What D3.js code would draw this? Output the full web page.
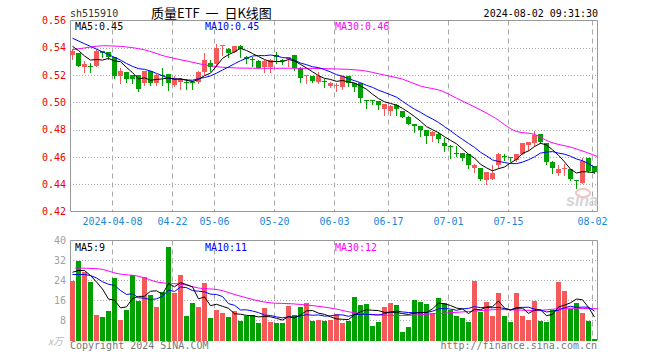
<!DOCTYPE html>
<html><head><meta charset="utf-8">
<script src="https://cdn.jsdelivr.net/npm/d3@7"></script>
<style>body{margin:0;background:#fff}svg{display:block}</style>
</head><body>
<svg id="c" width="660" height="360"></svg>
<script>
const dates = [
"2024-03-26","2024-03-27","2024-03-28","2024-03-29","2024-04-01","2024-04-02","2024-04-03",
"2024-04-08","2024-04-09","2024-04-10","2024-04-11","2024-04-12",
"2024-04-15","2024-04-16","2024-04-17","2024-04-18","2024-04-19",
"2024-04-22","2024-04-23","2024-04-24","2024-04-25","2024-04-26","2024-04-29","2024-04-30",
"2024-05-06","2024-05-07","2024-05-08","2024-05-09","2024-05-10",
"2024-05-13","2024-05-14","2024-05-15","2024-05-16","2024-05-17",
"2024-05-20","2024-05-21","2024-05-22","2024-05-23","2024-05-24",
"2024-05-27","2024-05-28","2024-05-29","2024-05-30","2024-05-31",
"2024-06-03","2024-06-04","2024-06-05","2024-06-06","2024-06-07",
"2024-06-11","2024-06-12","2024-06-13","2024-06-14",
"2024-06-17","2024-06-18","2024-06-19","2024-06-20","2024-06-21",
"2024-06-24","2024-06-25","2024-06-26","2024-06-27","2024-06-28",
"2024-07-01","2024-07-02","2024-07-03","2024-07-04","2024-07-05",
"2024-07-08","2024-07-09","2024-07-10","2024-07-11","2024-07-12",
"2024-07-15","2024-07-16","2024-07-17","2024-07-18","2024-07-19",
"2024-07-22","2024-07-23","2024-07-24","2024-07-25","2024-07-26",
"2024-07-29","2024-07-30","2024-07-31","2024-08-01","2024-08-02"];

const open = [.535,.536,.526,.527,.527,.538,.537,.533,.519,.522,
.520,.520,.514,.523,.514,.520,.521,.513,.515,.515,
.515,.515,.522,.529,.528,.541,.539,.537,.541,.533,
.532,.530,.526,.526,.535,.531,.532,.535,.525,.519,
.519,.515,.516,.512,.512,.511,.519,.514,.514,.502,
.502,.501,.495,.494,.498,.494,.489,.484,.483,.480,
.475,.477,.470,.468,.463,.463,.462,.452,.452,.443,
.444,.454,.461,.460,.458,.462,.469,.470,.477,.470,
.456,.448,.451,.451,.443,.441,.459,.453];
const high = [.539,.536,.530,.529,.539,.538,.537,.533,.525,.522,
.520,.520,.523,.523,.521,.525,.521,.519,.518,.517,
.516,.523,.536,.531,.543,.542,.540,.541,.542,.534,
.533,.531,.531,.532,.537,.532,.533,.535,.526,.520,
.519,.522,.517,.515,.514,.519,.519,.514,.514,.502,
.502,.501,.499,.498,.499,.494,.490,.484,.483,.480,
.479,.478,.474,.469,.468,.463,.462,.455,.452,.449,
.454,.463,.462,.460,.462,.470,.471,.479,.477,.470,
.457,.454,.455,.451,.443,.459,.459,.453];
const low = [.532,.527,.522,.522,.527,.533,.532,.518,.514,.515,
.514,.508,.513,.513,.513,.513,.509,.512,.510,.510,
.510,.514,.521,.523,.527,.535,.533,.537,.533,.529,
.527,.525,.522,.522,.529,.528,.527,.524,.515,.514,
.515,.514,.511,.511,.508,.510,.512,.508,.500,.496,
.499,.495,.491,.491,.491,.489,.484,.478,.475,.470,
.472,.471,.464,.459,.461,.458,.452,.449,.443,.440,
.444,.452,.458,.457,.457,.462,.465,.468,.470,.455,
.448,.447,.447,.443,.437,.441,.449,.448];
const close = [.538,.527,.528,.526,.538,.536,.533,.519,.523,.517,
.517,.510,.523,.514,.520,.519,.514,.517,.517,.514,
.514,.522,.531,.526,.540,.542,.536,.541,.539,.532,
.531,.525,.530,.531,.533,.530,.533,.525,.518,.520,
.516,.519,.515,.514,.513,.519,.514,.511,.503,.501,
.501,.498,.499,.497,.495,.489,.484,.483,.480,.475,
.478,.473,.468,.467,.462,.459,.454,.454,.444,.449,
.448,.462,.460,.459,.462,.470,.471,.476,.471,.456,
.452,.451,.452,.444,.442,.457,.450,.449];
const volume = [23.7,32,27.3,23.6,10.4,9.6,12,24.9,8.4,12.4,
26.4,16,25.3,18.4,13.3,19.6,37.3,18.9,26.4,9.7,
14.9,13.3,22.9,8.9,12.4,10.9,9.3,12,8,10,
10.3,6.9,12.9,7.3,6.9,6.9,13.7,10.4,13.3,14.9,
7.7,8.4,8,8.4,10.7,6.9,8,17.3,14.4,14.8,
6,7.3,13.6,14.9,14.4,3.6,5.6,16.4,15.6,14.8,
10.9,16.9,15.1,12.3,9.7,9.2,7.6,23.7,11.3,15.3,
9.7,18.9,9.7,7.3,18.9,10,8.4,16,8,7.3,
12.4,23.3,19.7,12.7,14.9,10.9,8,0.4];

const ma5Head = [.541,.538,.534,.531];
const ma10Head = [.547,.545,.543,.541,.539,.537,.535,.533,.531];
const ma30Idx = [0,3,5,8,12,15.5,19.4,22,25,30,36,44,48,52,55,58,61.7,64,68,70,74,77,79.4,83.4,87.5];
const ma30Val = [.5386,.5405,.5415,.541,.5385,.5337,.530,.5275,.5257,.525,.525,.5245,.5235,.520,.517,.512,.5081,.503,.4945,.4897,.4787,.4765,.4713,.4667,.4603];
const volMa5Head = [27.3,28,28,26];
const volMa10Head = [26.4,26.4,26.4,26,25,23.5,22.5,22,20];
const volMa30Idx = [0.4,4.3,7.6,11,14.3,18.7,21,24.3,27.6,33.2,36.5,43.7,47,54.8,60.4,66,71.5,77,82.6,87.6];
const volMa30Val = [29,28.7,26.7,25.7,23.3,22.3,21,20.3,18,15,14.7,12.7,11.1,10,10.7,11.6,12.4,12,12.9,12.7];

const priceTicks = [0.42,0.44,0.46,0.48,0.50,0.52,0.54,0.56];
const volTicks = [8,16,24,32,40];
const tickDates = ["2024-04-08","2024-04-22","2024-05-06","2024-05-20","2024-06-03","2024-06-17","2024-07-01","2024-07-15","2024-08-02"];
const tickLabels = ["2024-04-08","04-22","05-06","05-20","06-03","06-17","07-01","07-15","08-02"];
const maNames = ["MA5","MA10","MA30"];
const maLegend = ["0.45","0.45","0.46"];
const volLegend = ["9","11","12"];
const code = "sh515910";
const title = "质量ETF 一 日K线图";
const stamp = "2024-08-02 09:31:30";

const UP = "#f45a5a", DOWN = "#00a000";
const maColors = ["#000000","#0000ff","#ff00ff"];
const mono = "'DejaVu Sans Mono', 'Liberation Mono', monospace";
const svg = d3.select("#c");
const L = 70, R = 598;
const n = dates.length;

const x = d3.scaleBand().domain(d3.range(n)).range([L, R])
  .paddingInner(1/6).paddingOuter(1/12).align(0);
const xs = d3.scaleLinear().domain([0, n]).range([L, R]); // continuous slot position
const cx = i => xs(i) + 2.5;
const yP = d3.scaleLinear().domain([0.42, 0.56]).range([211.5, 20.5]);
const yV = d3.scaleLinear().domain([0, 40]).range([340.5, 240.5]);

const gridC = "#a8a8a8";
const tickIdx = tickDates.map(d => dates.indexOf(d));

// horizontal dotted grid
svg.append("g").selectAll("line").data(priceTicks.slice(1, -1)).join("line")
  .attr("x1", L).attr("x2", R).attr("y1", d => Math.round(yP(d)) + 0.5).attr("y2", d => Math.round(yP(d)) + 0.5)
  .attr("stroke", gridC).attr("stroke-dasharray", "1,2");
svg.append("g").selectAll("line").data(volTicks.slice(0, -1).concat([0])).join("line")
  .attr("x1", L).attr("x2", R).attr("y1", d => Math.floor(yV(d)) + 0.5).attr("y2", d => Math.floor(yV(d)) + 0.5)
  .attr("stroke", gridC).attr("stroke-dasharray", "1,2");
// vertical dashed grid
[[20.5, 211.5], [240.5, 340.5]].forEach(([a, b]) => {
  svg.append("g").selectAll("line").data(tickIdx).join("line")
    .attr("x1", d => x(d) + 0.5).attr("x2", d => x(d) + 0.5).attr("y1", a).attr("y2", b)
    .attr("stroke", gridC).attr("stroke-dasharray", "5,4");
});
// frames
svg.append("path").attr("d", `M${L+0.5},20.5H${R-0.5}V211.5H${L+0.5}Z`).attr("fill", "none").attr("stroke", "#999");
svg.append("path").attr("d", `M${L+0.5},340.5V240.5H${R-0.5}V340.5`).attr("fill", "none").attr("stroke", "#999");

// sina watermark
const wm = svg.append("g");
wm.append("ellipse").attr("cx", 583).attr("cy", 193).attr("rx", 7).attr("ry", 4).attr("fill", "none").attr("stroke", "#f2c4c4").attr("stroke-width", 2);
wm.append("text").attr("x", 566).attr("y", 206).text("sina")
  .attr("font-family", "Arial, 'Liberation Sans', sans-serif").attr("font-style", "italic").attr("font-weight", "bold")
  .attr("font-size", 16).attr("fill", "#d5d5d5");

// candles
const idx = d3.range(n);
const col = i => close[i] >= open[i] ? UP : DOWN;
const cg = svg.append("g");
cg.selectAll("line").data(idx).join("line")
  .attr("x1", cx).attr("x2", cx)
  .attr("y1", i => Math.round(yP(high[i]))).attr("y2", i => Math.round(yP(low[i])) + 1)
  .attr("stroke", col);
cg.selectAll("rect").data(idx).join("rect")
  .attr("x", i => x(i)).attr("width", x.bandwidth())
  .attr("y", i => Math.round(yP(Math.max(open[i], close[i]))))
  .attr("height", i => Math.max(1, Math.round(yP(Math.min(open[i], close[i]))) - Math.round(yP(Math.max(open[i], close[i])))))
  .attr("fill", col);

// moving averages
const movAvg = (vals, k, head) => vals.map((v, i) => i < k - 1 ? head[i] : d3.mean(vals.slice(i - k + 1, i + 1)));
const lineP = d3.line().x((d, i) => cx(i)).y(d => yP(d));
const lineV = d3.line().x((d, i) => cx(i)).y(d => yV(d));
const lineS = (ys) => d3.line().x(d => cx(d[0])).y(d => ys(d[1])).curve(d3.curveMonotoneX);
svg.append("path").attr("d", lineS(yP)(d3.zip(ma30Idx, ma30Val))).attr("fill", "none").attr("stroke", maColors[2]);
svg.append("path").attr("d", lineP(movAvg(close, 10, ma10Head))).attr("fill", "none").attr("stroke", maColors[1]);
svg.append("path").attr("d", lineP(movAvg(close, 5, ma5Head))).attr("fill", "none").attr("stroke", maColors[0]);

// volume bars
svg.append("g").selectAll("rect").data(idx).join("rect")
  .attr("x", i => x(i)).attr("width", x.bandwidth())
  .attr("y", i => Math.round(yV(volume[i])))
  .attr("height", i => 341 - Math.round(yV(volume[i])))
  .attr("fill", col);
svg.append("path").attr("d", lineS(yV)(d3.zip(volMa30Idx, volMa30Val))).attr("fill", "none").attr("stroke", maColors[2]);
svg.append("path").attr("d", lineV(movAvg(volume, 10, volMa10Head))).attr("fill", "none").attr("stroke", maColors[1]);
svg.append("path").attr("d", lineV(movAvg(volume, 5, volMa5Head))).attr("fill", "none").attr("stroke", maColors[0]);

// axes
const styleAxis = (g, color) => {
  g.select(".domain").remove();
  g.selectAll(".tick line").remove();
  g.selectAll("text").attr("fill", color).attr("font-family", mono).attr("font-size", 10);
};
svg.append("g").attr("transform", "translate(70,0)")
  .call(d3.axisLeft(yP).tickValues(priceTicks).tickFormat(d3.format(".2f")).tickSize(0).tickPadding(4))
  .call(g => styleAxis(g, "#ee0000"));
svg.append("g").attr("transform", "translate(70,0)")
  .call(d3.axisLeft(yV).tickValues(volTicks).tickFormat(d3.format("d")).tickSize(0).tickPadding(4))
  .call(g => styleAxis(g, "#a0a0a0"));
svg.append("g").attr("transform", "translate(0,215)")
  .call(d3.axisBottom(xs).tickValues(tickIdx).tickFormat((d, k) => tickLabels[k]).tickSize(0).tickPadding(3))
  .call(g => styleAxis(g, "#1a88d8"));

// texts
const t = (xx, yy, s, fill, anchor, size, fam) => svg.append("text").attr("x", xx).attr("y", yy).text(s)
  .attr("fill", fill).attr("text-anchor", anchor || "start").attr("font-size", size || 10).attr("font-family", fam || mono);
t(70, 16.5, code, "#333");
t(151, 17.5, title, "#000", "start", 13, "'Noto Sans CJK SC', sans-serif").attr("word-spacing", 3);
t(598, 16.5, stamp, "#000", "end");
maNames.forEach((nm, k) => {
  t(75 + 130 * k, 30, `${nm}:${maLegend[k]}`, maColors[k]);
  t(75 + 130 * k, 251, `${nm}:${volLegend[k]}`, maColors[k]);
});
t(48, 345, "x万", "#b8b8b8", "start", 10, "'Noto Sans CJK SC', sans-serif").attr("font-style", "italic");
t(70, 349, "Copyright 2024 SINA.COM", "#777");
t(597, 349, "http://finance.sina.com.cn", "#777", "end");
</script>
</body></html>
